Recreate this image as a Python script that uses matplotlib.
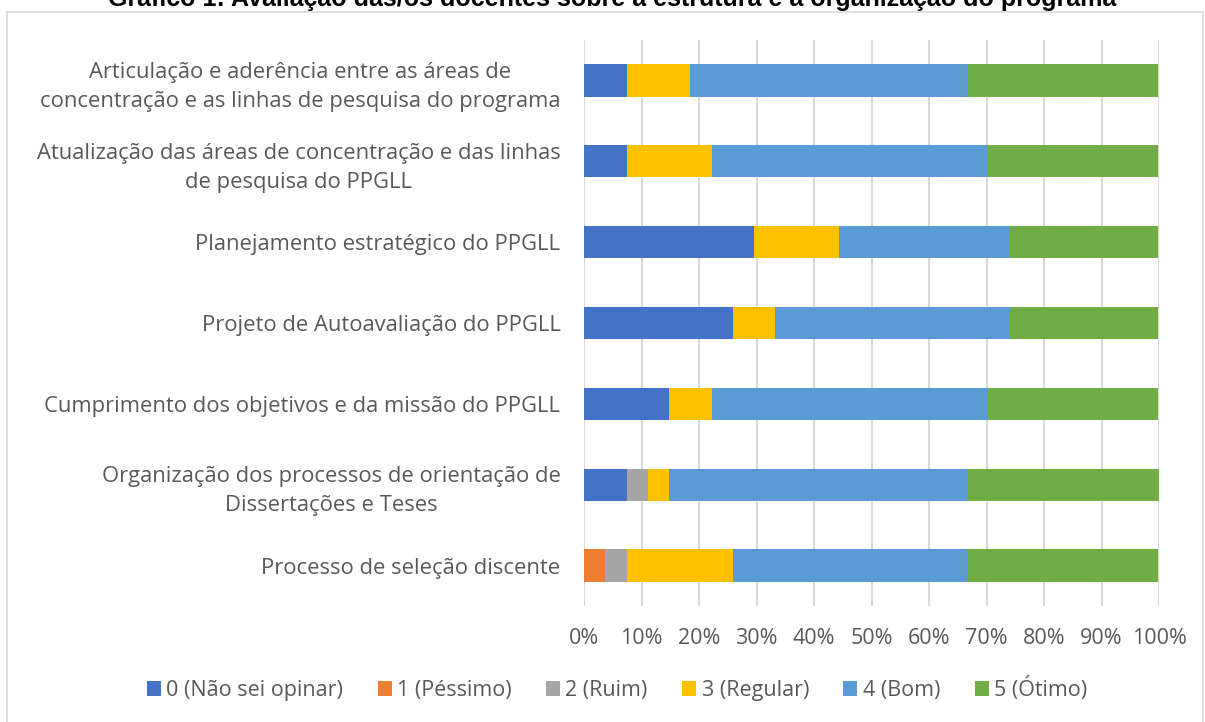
import matplotlib
matplotlib.use("Agg")
import matplotlib.pyplot as plt
from matplotlib.patches import Rectangle
from matplotlib.ticker import PercentFormatter
import numpy as np

categories = [
    "Articulação e aderência entre as áreas de\nconcentração e as linhas de pesquisa do programa",
    "Atualização das áreas de concentração e das linhas\nde pesquisa do PPGLL",
    "Planejamento estratégico do PPGLL",
    "Projeto de Autoavaliação do PPGLL",
    "Cumprimento dos objetivos e da missão do PPGLL",
    "Organização dos processos de orientação de\nDissertações e Teses",
    "Processo de seleção discente",
]
series_names = ["0 (Não sei opinar)", "1 (Péssimo)", "2 (Ruim)", "3 (Regular)", "4 (Bom)", "5 (Ótimo)"]
# percentage values per series (same order as categories)
s0 = [7.4, 7.4, 29.6, 25.9, 14.8, 7.4, 0.0]
s1 = [0.0, 0.0, 0.0, 0.0, 0.0, 0.0, 3.7]
s2 = [0.0, 0.0, 0.0, 0.0, 0.0, 3.7, 3.7]
s3 = [11.1, 14.8, 14.8, 7.4, 7.4, 3.7, 18.5]
s4 = [48.1, 48.1, 29.6, 40.7, 48.1, 51.9, 40.7]
s5 = [33.3, 29.6, 25.9, 25.9, 29.6, 33.3, 33.3]
colors = ["#4472C4", "#ED7D31", "#A5A5A5", "#FFC000", "#5B9BD5", "#70AD47"]
title = "Gráfico 1: Avaliação das/os docentes sobre a estrutura e a organização do programa"

W, H = 1205, 722
fig = plt.figure(figsize=(W / 100, H / 100), dpi=100)
plt.rcParams["font.family"] = ["Open Sans", "DejaVu Sans"]

ax = fig.add_axes([584 / W, 1 - 606 / H, (1159 - 584) / W, (606 - 40) / H])

series = [s0, s1, s2, s3, s4, s5]
y = np.arange(len(categories))
left = np.zeros(len(categories))
for name, vals, c in zip(series_names, series, colors):
    vals = np.array(vals)
    ax.barh(y, vals, left=left, height=0.4, color=c, label=name, zorder=3)
    left += vals

ax.set_ylim(len(categories) - 0.5, -0.5)
ax.set_xlim(0, 100)
ax.set_xticks(np.arange(0, 101, 10))
ax.xaxis.set_major_formatter(PercentFormatter(decimals=0))
ax.set_yticks(y)
ax.set_yticklabels(categories, multialignment="center", linespacing=1.5)
for s in ax.spines.values():
    s.set_visible(False)
ax.grid(axis="x", color="#d9d9d9", linewidth=1.5, zorder=0)
ax.tick_params(axis="both", length=0, labelsize=15.5, colors="#595959")
ax.tick_params(axis="y", labelsize=15.8, pad=17)
ax.tick_params(axis="x", pad=16)

handles, labels = ax.get_legend_handles_labels()
fig.legend(handles, labels, loc="center", bbox_to_anchor=(617 / W, 1 - 689 / H), ncol=6,
           frameon=False, fontsize=15.5, handlelength=0.65, handleheight=0.65,
           handletextpad=0.25, columnspacing=1.6, labelcolor="#595959")

fig.text(612 / W, 1 - 6 / H, title, ha="center", va="baseline", fontsize=18,
         fontweight="bold", family="Liberation Sans", color="#000000")

fig.patches.append(Rectangle((7 / W, -0.05), (1203 - 7) / W, 1.05 - 12 / H,
                             transform=fig.transFigure, fill=False,
                             edgecolor="#d9d9d9", linewidth=1.2))

fig.savefig("out.png", dpi=100)
